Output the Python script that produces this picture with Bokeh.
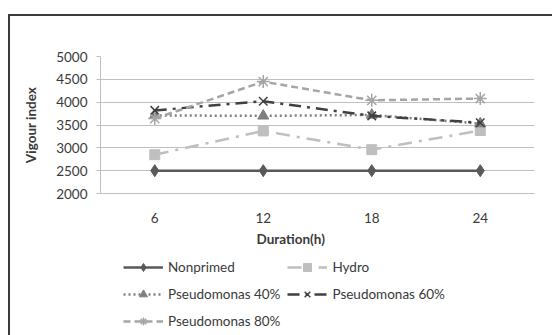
from bokeh.plotting import figure
from bokeh.layouts import column
from bokeh.models import (FactorRange, Range1d, Legend, LegendItem, Title,
                          SingleIntervalTicker)
from bokeh.embed import file_html
from bokeh.resources import INLINE

durations = ["6", "12", "18", "24"]
nonprimed = [2500, 2500, 2500, 2500]
hydro = [2850, 3370, 2960, 3380]
pseudo40 = [3710, 3700, 3720, 3530]
pseudo60 = [3820, 4020, 3700, 3550]
pseudo80 = [3640, 4450, 4040, 4080]

series = [
    ("Nonprimed", nonprimed, "#595959", "solid", "diamond", 12),
    ("Hydro", hydro, "#BFBFBF", "14 7 3 7", "square", 10),
    ("Pseudomonas 40%", pseudo40, "#7F7F7F", "2 3", "triangle", 11),
    ("Pseudomonas 60%", pseudo60, "#404040", "12 6 3 6", "x", 12),
    ("Pseudomonas 80%", pseudo80, "#A5A5A5", "7 4", "asterisk", 13),
]

FONT = "Lato"
TXT = "#3a3a3a"

p = figure(width=542, height=240, output_backend="svg", toolbar_location=None,
           x_range=FactorRange(*durations, range_padding=0),
           y_range=Range1d(2000, 5000))
p.min_border = 0
p.min_border_left = 90
p.min_border_right = 18
p.min_border_top = 40
p.min_border_bottom = 63
p.outline_line_color = None
p.background_fill_color = "white"
p.border_fill_color = "white"

p.xgrid.grid_line_color = None
p.ygrid.grid_line_color = "#BFBFBF"
p.ygrid.grid_line_width = 1

p.yaxis.ticker = SingleIntervalTicker(interval=500)
p.yaxis.axis_line_color = "#BFBFBF"
p.yaxis.major_tick_line_color = "#BFBFBF"
p.yaxis.major_tick_out = 4
p.yaxis.major_tick_in = 0
p.yaxis.minor_tick_line_color = None
p.yaxis.major_label_standoff = 9
p.yaxis.axis_label = "Vigour index"
p.yaxis.axis_label_standoff = 14
p.yaxis.axis_label_text_font_style = "bold"

p.xaxis.axis_line_color = "#BFBFBF"
p.xaxis.major_tick_line_color = None
p.xaxis.minor_tick_line_color = None
p.xaxis.major_label_standoff = 13

for ax in (p.xaxis[0], p.yaxis[0]):
    ax.major_label_text_font = FONT
    ax.major_label_text_font_size = "13.5px"
    ax.major_label_text_color = TXT
    ax.axis_label_text_font = FONT
    ax.axis_label_text_font_size = "13.5px"
    ax.axis_label_text_color = TXT

xtitle = Title(text="Duration(h)", align="left", offset=156,
               text_font=FONT, text_font_size="13.5px", text_font_style="bold",
               text_color=TXT, standoff=7)
p.add_layout(xtitle, "below")

# legend holder figure (below the chart); its series fall outside its ranges,
# so only the legend swatches are visible
q = figure(width=542, height=80, output_backend="svg", toolbar_location=None,
           x_range=FactorRange(*durations, range_padding=0), y_range=Range1d(0, 1),
           x_axis_type=None, y_axis_type=None)
q.min_border = 0
q.outline_line_color = None
q.grid.grid_line_color = None
q.border_fill_color = "white"

items = []
for name, vals, color, dash, marker, size in series:
    lw = 1.5 if marker in ("x", "asterisk") else 1
    p.line(durations, vals, line_color=color, line_width=2.5, line_dash=dash)
    p.scatter(durations, vals, marker=marker, size=size, fill_color=color,
              line_color=color, line_width=lw)
    l1 = q.line(durations, vals, line_color=color, line_width=2.5, line_dash=dash)
    l2 = q.scatter(durations, vals, marker=marker, size=size, fill_color=color,
                   line_color=color, line_width=lw)
    items.append(LegendItem(label=name, renderers=[l1, l2]))

legend = Legend(items=items, orientation="horizontal", ncols=2,
                location=(23, 5), glyph_width=40, glyph_height=20,
                label_height=20, label_standoff=5, spacing=7,
                padding=0, margin=0, border_line_color=None,
                background_fill_alpha=0,
                label_text_font=FONT, label_text_font_size="13.5px",
                label_text_color=TXT)
q.add_layout(legend, "center")

layout = column(p, q, spacing=0)
layout.margin = (14, 0, 0, 8)
layout.styles = {"border-left": "2px solid #3a3a3a", "border-top": "2px solid #3a3a3a"}

open("out.html", "w").write(file_html(layout, INLINE))
